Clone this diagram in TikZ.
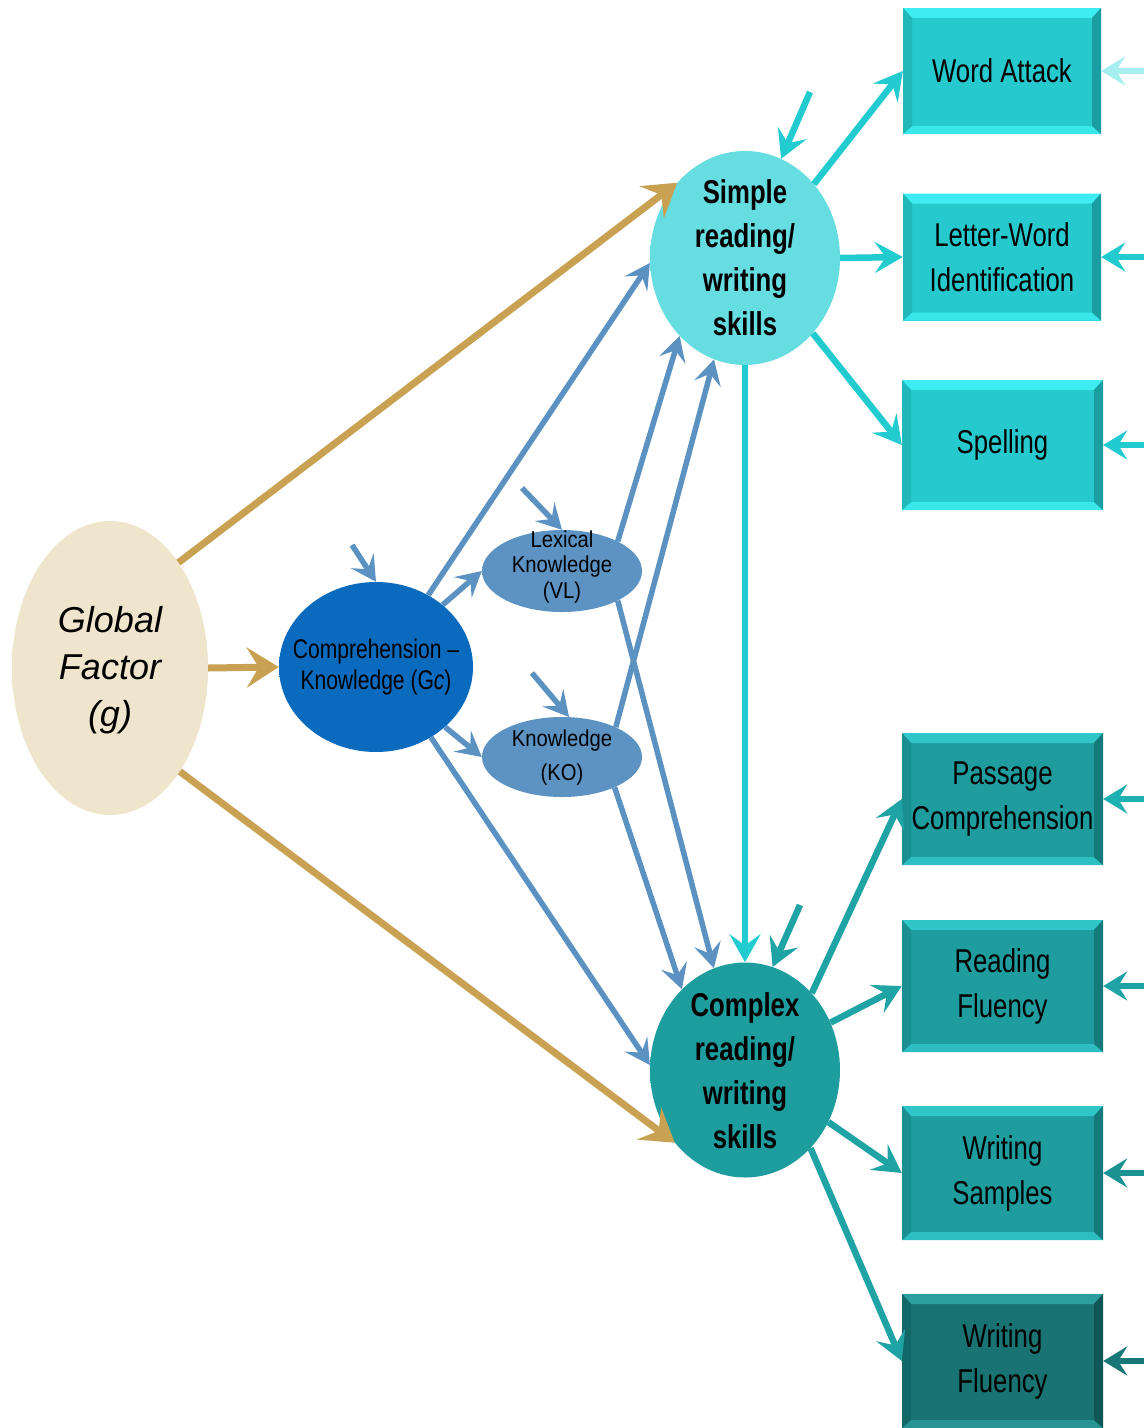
\documentclass[tikz,border=0pt]{standalone}
\usepackage{fontspec}
\setmainfont{Liberation Sans}
\newfontfamily\narrowfont[FakeStretch=0.78,Ligatures=TeX]{Liberation Sans}
\newfontfamily\semifont[FakeStretch=0.88,Ligatures=TeX]{Liberation Sans}
\usetikzlibrary{arrows.meta,shapes.geometric,calc}

% line colours
\definecolor{gold}{HTML}{C9A152}
\definecolor{steel}{HTML}{5B92C2}
\definecolor{cyanline}{HTML}{22CBD0}
\definecolor{tealline}{HTML}{1FA3A4}
\definecolor{paleline}{HTML}{A6EEF0}
\definecolor{midline}{HTML}{1FB0B2}
\definecolor{deepline}{HTML}{1B9292}
\definecolor{darkline}{HTML}{187878}
% ball colours
\definecolor{gfill}{HTML}{EFE5CC}\definecolor{grim}{HTML}{F6EFDE}\definecolor{gedge}{HTML}{D6CBAE}
\definecolor{sfill}{HTML}{66DDE1}\definecolor{srim}{HTML}{88F3F5}
\definecolor{cfill}{HTML}{1D9D9E}\definecolor{crim}{HTML}{34BDBE}
\definecolor{kfill}{HTML}{0A6BBE}\definecolor{krim}{HTML}{0F7DD3}
\definecolor{vfill}{HTML}{5C93C3}\definecolor{vrim}{HTML}{7CB1DC}
% box colours
\definecolor{boxcyan}{HTML}{26C9CD}\definecolor{boxcyanhi}{HTML}{3EEDF1}\definecolor{boxcyanlo}{HTML}{1A9EA2}
\definecolor{boxteal}{HTML}{1E9C9E}\definecolor{boxtealhi}{HTML}{30C6C8}\definecolor{boxteallo}{HTML}{147A7C}
\definecolor{boxdark}{HTML}{187372}\definecolor{boxdarkhi}{HTML}{2C9E9E}\definecolor{boxdarklo}{HTML}{0F5656}

\pgfdeclareradialshading{globalshade}{\pgfpointorigin}{color(0bp)=(gfill);color(36bp)=(gfill);color(46bp)=(grim);color(50bp)=(gedge)}
\pgfdeclareradialshading{simpleshade}{\pgfpointorigin}{color(0bp)=(sfill);color(34bp)=(sfill);color(50bp)=(srim)}
\pgfdeclareradialshading{complexshade}{\pgfpointorigin}{color(0bp)=(cfill);color(34bp)=(cfill);color(50bp)=(crim)}
\pgfdeclareradialshading{gcshade}{\pgfpointorigin}{color(0bp)=(kfill);color(36bp)=(kfill);color(50bp)=(krim)}
\pgfdeclareradialshading{vlshade}{\pgfpointorigin}{color(0bp)=(vfill);color(34bp)=(vfill);color(50bp)=(vrim)}

\tikzset{
  ball/.style={ellipse, inner sep=0pt, draw=none},
  bevelbox/.style n args={3}{rectangle, inner sep=0pt, fill=#1, align=center,
    font=\narrowfont\fontsize{33}{45}\selectfont,
    path picture={
      \fill[#2] (path picture bounding box.north west) -- (path picture bounding box.north east)
        -- ([xshift=-9pt,yshift=-10pt]path picture bounding box.north east)
        -- ([xshift=9pt,yshift=-10pt]path picture bounding box.north west) -- cycle;
      \fill[#2!80!#1] (path picture bounding box.south west) -- (path picture bounding box.south east)
        -- ([xshift=-9pt,yshift=8pt]path picture bounding box.south east)
        -- ([xshift=9pt,yshift=8pt]path picture bounding box.south west) -- cycle;
      \fill[#3] (path picture bounding box.north east) -- (path picture bounding box.south east)
        -- ([xshift=-9pt,yshift=8pt]path picture bounding box.south east)
        -- ([xshift=-9pt,yshift=-10pt]path picture bounding box.north east) -- cycle;
      \fill[#3!40!#1] (path picture bounding box.north west) -- (path picture bounding box.south west)
        -- ([xshift=9pt,yshift=8pt]path picture bounding box.south west)
        -- ([xshift=9pt,yshift=-10pt]path picture bounding box.north west) -- cycle;
    }},
  goldarrow/.style={draw=gold, line width=7pt, -{Stealth[length=32pt,width=40pt,inset=12pt]}},
  bluearrow/.style={draw=steel, line width=5.5pt, -{Stealth[length=25pt,width=27pt,inset=10pt]}},
  linkarrow/.style={draw=#1, line width=6.5pt, -{Stealth[length=28pt,width=31pt,inset=11pt]}},
  inarrow/.style={draw=#1, line width=6pt, -{Stealth[length=24pt,width=29pt,inset=9pt]}},
}

\begin{document}
\begin{tikzpicture}[x=1pt,y=-1pt]
\useasboundingbox[fill=white] (0,0) rectangle (1144,1428);

% latent factors
\node[ball, shading=globalshade, minimum width=196pt, minimum height=294pt] (g) at (110,668) {};
\node[font=\itshape\fontsize{36}{47}\selectfont, align=center] (g-txt) at (110,670) {Global\\Factor\\(g)};

\node[ball, shading=gcshade, minimum width=194pt, minimum height=170pt] (gc) at (376,667) {};
\node[font=\narrowfont\fontsize{27}{31}\selectfont, align=center] (gc-txt) at (gc) {Comprehension –\\Knowledge (G{\itshape c})};

\node[ball, shading=vlshade, minimum width=160pt, minimum height=82pt] (vl) at (562,571) {};
\node[font=\semifont\fontsize{23}{25.5}\selectfont, align=center] (vl-txt) at (562,567) {Lexical\\Knowledge\\(VL)};

\node[ball, shading=vlshade, minimum width=160pt, minimum height=80pt] (ko) at (562,757) {};
\node[font=\semifont\fontsize{23}{34}\selectfont, align=center] (ko-txt) at (562,758) {Knowledge\\(KO)};

\node[ball, shading=simpleshade, minimum width=190pt, minimum height=214pt] (simple) at (745,258) {};
\node[font=\narrowfont\bfseries\fontsize{33}{44}\selectfont, align=center] (simple-txt) at (745,258) {Simple\\reading/\\writing\\skills};

\node[ball, shading=complexshade, minimum width=190pt, minimum height=215pt] (complex) at (745,1070) {};
\node[font=\narrowfont\bfseries\fontsize{33}{44}\selectfont, align=center] (complex-txt) at (745,1071) {Complex\\reading/\\writing\\skills};

% observed measures
\node[bevelbox={boxcyan}{boxcyanhi}{boxcyanlo}, minimum width=198pt, minimum height=126pt] (wa) at (1002,71) {Word Attack};
\node[bevelbox={boxcyan}{boxcyanhi}{boxcyanlo}, minimum width=198pt, minimum height=127pt] (lw) at (1002,257) {Letter-Word\\Identification};
\node[bevelbox={boxcyan}{boxcyanhi}{boxcyanlo}, minimum width=201pt, minimum height=130pt] (sp) at (1002.5,445) {Spelling};
\node[bevelbox={boxteal}{boxtealhi}{boxteallo}, minimum width=201pt, minimum height=132pt] (pc) at (1002.5,799) {Passage\\Comprehension};
\node[bevelbox={boxteal}{boxtealhi}{boxteallo}, minimum width=201pt, minimum height=132pt] (rf) at (1002.5,986) {Reading\\Fluency};
\node[bevelbox={boxteal}{boxtealhi}{boxteallo}, minimum width=201pt, minimum height=134pt] (ws) at (1002.5,1173) {Writing\\Samples};
\node[bevelbox={boxdark}{boxdarkhi}{boxdarklo}, minimum width=201pt, minimum height=134pt] (wf) at (1002.5,1361) {Writing\\Fluency};

% free ends of the residual arrows
\coordinate (d-gc) at (352,545);
\coordinate (d-vl) at (522,488);
\coordinate (d-ko) at (532,673);
\coordinate (d-simple) at (810,92);
\coordinate (d-complex) at (800,905);
\coordinate (e-wa) at (1160,71);
\coordinate (e-lw) at (1160,257);
\coordinate (e-sp) at (1160,445);
\coordinate (e-pc) at (1160,799);
\coordinate (e-rf) at (1160,986);
\coordinate (e-ws) at (1160,1173);
\coordinate (e-wf) at (1160,1361);

% general factor paths
\draw[goldarrow] (g.57) -- (simple.132);
\draw[goldarrow] (g.east) -- (gc.west);
\draw[goldarrow] (g.-56) -- (complex.226);

% crystallized knowledge paths
\draw[bluearrow] (gc.54) -- (simple.183);
\draw[bluearrow] (gc.43) -- (vl.west);
\draw[bluearrow] (gc.-41) -- (ko.west);
\draw[bluearrow] (gc.-52) -- (complex.177);
\draw[bluearrow] (vl.28) -- (simple.230);
\draw[bluearrow] (vl.-28) -- (complex.107);
\draw[bluearrow] (ko.29) -- (simple.253);
\draw[bluearrow] (ko.-30) -- (complex.128);
\draw[bluearrow] (d-gc) -- (gc.north);
\draw[bluearrow] (d-vl) -- (vl.north);
\draw[bluearrow] (d-ko) -- (ko.80);

% simple skills
\draw[linkarrow=cyanline] (d-simple) -- (simple.70);
\draw[linkarrow=cyanline] (simple.south) -- (complex.north);
\draw[linkarrow=cyanline] (simple.47) -- (wa.west);
\draw[linkarrow=cyanline] (simple.east) -- (lw.west);
\draw[linkarrow=cyanline] (simple.-48) -- (sp.west);

% complex skills
\draw[linkarrow=tealline] (d-complex) -- (complex.75);
\draw[linkarrow=tealline] (complex.49) -- (pc.west);
\draw[linkarrow=tealline] (complex.29) -- (rf.west);
\draw[linkarrow=tealline] (complex.-32) -- (ws.west);
\draw[linkarrow=tealline] (complex.-50) -- (wf.west);

% measurement residuals
\draw[inarrow=paleline] (e-wa) -- (wa.east);
\draw[inarrow=cyanline] (e-lw) -- (lw.east);
\draw[inarrow=cyanline] (e-sp) -- (sp.east);
\draw[inarrow=midline] (e-pc) -- (pc.east);
\draw[inarrow=tealline] (e-rf) -- (rf.east);
\draw[inarrow=deepline] (e-ws) -- (ws.east);
\draw[inarrow=darkline] (e-wf) -- (wf.east);
\end{tikzpicture}
\end{document}
